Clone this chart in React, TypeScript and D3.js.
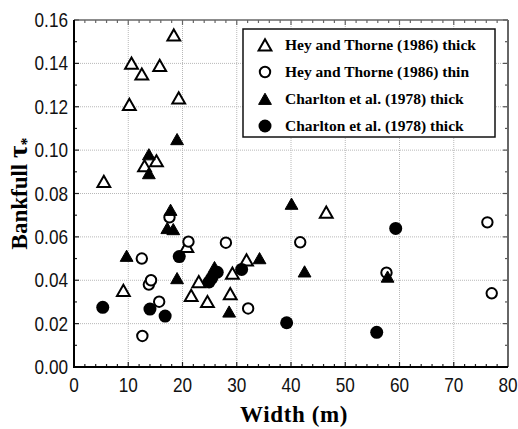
import React, { useEffect, useRef } from 'react';
import * as d3 from 'd3';

// Hey and Thorne (1986) thick — open triangles
const heyThickX = [5.5, 9.1, 10.2, 10.6, 12.5, 13.0, 15.2, 15.8, 18.4, 19.3, 20.8, 21.6, 23.0, 24.6, 28.8, 29.2, 31.8, 46.5];
const heyThickY = [0.0855, 0.0352, 0.121, 0.140, 0.135, 0.0927, 0.095, 0.139, 0.153, 0.124, 0.0555, 0.0329, 0.0393, 0.0301, 0.0337, 0.0432, 0.0493, 0.0713];

// Hey and Thorne (1986) thin — open circles
const heyThinX = [12.5, 12.6, 13.8, 14.2, 15.7, 17.6, 21.1, 28.0, 32.1, 41.7, 57.6, 76.2, 77.0];
const heyThinY = [0.050, 0.0143, 0.038, 0.040, 0.0301, 0.069, 0.0578, 0.0573, 0.027, 0.0575, 0.0435, 0.0667, 0.034];

// Charlton et al. (1978) thick — filled triangles
const charlTriX = [9.7, 13.8, 13.8, 17.2, 18.3, 17.8, 19.0, 19.0, 25.9, 28.6, 34.2, 40.1, 42.5, 57.8];
const charlTriY = [0.0512, 0.098, 0.0893, 0.064, 0.0635, 0.0724, 0.105, 0.0409, 0.046, 0.0255, 0.0501, 0.0752, 0.044, 0.0416];

// Charlton et al. (1978) thick — filled circles
const charlDotX = [5.3, 14.0, 16.8, 19.4, 24.9, 25.4, 26.4, 30.9, 39.2, 55.8, 59.3];
const charlDotY = [0.0275, 0.0267, 0.0235, 0.0509, 0.0392, 0.041, 0.0437, 0.045, 0.0204, 0.016, 0.0639];

const legendLabels = [
  'Hey and Thorne (1986) thick',
  'Hey and Thorne (1986) thin',
  'Charlton et al. (1978) thick',
  'Charlton et al. (1978) thick',
];

const xTicks = [0, 10, 20, 30, 40, 50, 60, 70, 80];
const yTicks = [0, 0.02, 0.04, 0.06, 0.08, 0.1, 0.12, 0.14, 0.16];

const W = 518;
const H = 429;

const trianglePath = (cx: number, cy: number) =>
  `M${cx},${cy - 5.8}L${cx + 6.4},${cy + 5.4}L${cx - 6.4},${cy + 5.4}Z`;

const App = () => {
  const ref = useRef<SVGSVGElement>(null);

  useEffect(() => {
    if (!ref.current) return;
    const svg = d3.select(ref.current);
    svg.selectAll('*').remove();

    const margin = { top: 20, right: 10, bottom: 62, left: 74 };
    const x = d3.scaleLinear().domain([0, 80]).range([margin.left, W - margin.right]);
    const y = d3.scaleLinear().domain([0, 0.16]).range([H - margin.bottom, margin.top]);
    const [x0, x1] = x.range();
    const [y0, y1] = y.range();

    svg.append('rect').attr('width', W).attr('height', H).attr('fill', '#fff');

    // grid
    const grid = svg.append('g').attr('stroke', '#b8b8b8').attr('stroke-width', 1).attr('stroke-dasharray', '1,1');
    xTicks.slice(1, -1).forEach(t => {
      grid.append('line').attr('x1', x(t)).attr('x2', x(t)).attr('y1', y0).attr('y2', y1);
    });
    yTicks.slice(1, -1).forEach(t => {
      grid.append('line').attr('x1', x0).attr('x2', x1).attr('y1', y(t)).attr('y2', y(t));
    });

    // ticks on all sides (inward)
    const ticks = svg.append('g').attr('stroke', '#222').attr('stroke-width', 1.2);
    d3.range(0, 81, 2).forEach(t => {
      const len = t % 10 === 0 ? 5 : 3;
      ticks.append('line').attr('x1', x(t)).attr('x2', x(t)).attr('y1', y0).attr('y2', y0 - len);
      ticks.append('line').attr('x1', x(t)).attr('x2', x(t)).attr('y1', y1).attr('y2', y1 + len).attr('stroke', '#666');
    });
    d3.range(0, 17).forEach(i => {
      const t = i * 0.01;
      const len = i % 2 === 0 ? 5 : 3;
      ticks.append('line').attr('x1', x0).attr('x2', x0 + len).attr('y1', y(t)).attr('y2', y(t));
      ticks.append('line').attr('x1', x1).attr('x2', x1 - len).attr('y1', y(t)).attr('y2', y(t)).attr('stroke', '#555');
    });

    // frame
    svg.append('line').attr('x1', x0).attr('x2', x1).attr('y1', y1).attr('y2', y1).attr('stroke', '#666').attr('stroke-width', 1.5);
    svg.append('line').attr('x1', x1).attr('x2', x1).attr('y1', y1).attr('y2', y0).attr('stroke', '#666').attr('stroke-width', 2);
    svg.append('line').attr('x1', x0).attr('x2', x0).attr('y1', y1).attr('y2', y0 + 1).attr('stroke', '#000').attr('stroke-width', 2);
    svg.append('line').attr('x1', x0 - 1).attr('x2', x1).attr('y1', y0).attr('y2', y0).attr('stroke', '#000').attr('stroke-width', 2);

    // tick labels
    const labelFont = '"Liberation Sans", Arial, sans-serif';
    yTicks.forEach(t => {
      svg.append('g')
        .attr('transform', `translate(68,${y(t) + 7}) scale(0.86,1)`)
        .append('text')
        .attr('text-anchor', 'end')
        .attr('font-family', labelFont)
        .attr('font-size', 20)
        .attr('fill', '#111')
        .text(d3.format('.2f')(t));
    });
    xTicks.forEach(t => {
      svg.append('g')
        .attr('transform', `translate(${x(t)},392) scale(0.86,1)`)
        .append('text')
        .attr('text-anchor', 'middle')
        .attr('font-family', labelFont)
        .attr('font-size', 20)
        .attr('fill', '#111')
        .text(String(t));
    });

    // axis titles
    const titleFont = '"Liberation Serif", "DejaVu Serif", serif';
    svg.append('text')
      .attr('x', (x0 + x1) / 2 + 3)
      .attr('y', 422)
      .attr('text-anchor', 'middle')
      .attr('font-family', titleFont)
      .attr('font-weight', 'bold')
      .attr('font-size', 23)
      .attr('letter-spacing', 0.6)
      .text('Width (m)');

    const yt = svg.append('text')
      .attr('transform', `translate(27,${(y0 + y1) / 2}) rotate(-90)`)
      .attr('text-anchor', 'middle')
      .attr('font-family', titleFont)
      .attr('font-weight', 'bold')
      .attr('font-size', 23);
    yt.append('tspan').text('Bankfull ');
    yt.append('tspan').attr('font-size', 27).text('τ');
    yt.append('tspan').attr('font-size', 16).attr('dy', 5).text('*');

    // data marks
    const marks = svg.append('g');
    heyThickX.forEach((v, i) => {
      marks.append('path').attr('d', trianglePath(x(v), y(heyThickY[i])))
        .attr('fill', '#fff').attr('stroke', '#000').attr('stroke-width', 2).attr('stroke-linejoin', 'miter');
    });
    heyThinX.forEach((v, i) => {
      marks.append('circle').attr('cx', x(v)).attr('cy', y(heyThinY[i])).attr('r', 5.2)
        .attr('fill', '#fff').attr('stroke', '#000').attr('stroke-width', 2);
    });
    charlTriX.forEach((v, i) => {
      marks.append('path').attr('d', trianglePath(x(v), y(charlTriY[i])))
        .attr('fill', '#000').attr('stroke', '#000').attr('stroke-width', 1);
    });
    charlDotX.forEach((v, i) => {
      marks.append('circle').attr('cx', x(v)).attr('cy', y(charlDotY[i])).attr('r', 6.5).attr('fill', '#000');
    });

    // legend
    const lg = svg.append('g');
    lg.append('rect').attr('x', 243).attr('y', 29).attr('width', 252).attr('height', 108)
      .attr('fill', '#fff').attr('stroke', '#111').attr('stroke-width', 1.5);
    const rows = [45, 72, 99, 126];
    lg.append('path').attr('d', trianglePath(265, rows[0])).attr('fill', '#fff').attr('stroke', '#000').attr('stroke-width', 2);
    lg.append('circle').attr('cx', 265).attr('cy', rows[1]).attr('r', 5.2).attr('fill', '#fff').attr('stroke', '#000').attr('stroke-width', 2);
    lg.append('path').attr('d', trianglePath(265, rows[2])).attr('fill', '#000').attr('stroke', '#000').attr('stroke-width', 1);
    lg.append('circle').attr('cx', 265).attr('cy', rows[3]).attr('r', 6.5).attr('fill', '#000');
    legendLabels.forEach((l, i) => {
      lg.append('text')
        .attr('x', 285)
        .attr('y', rows[i] + 5)
        .attr('font-family', titleFont)
        .attr('font-weight', 'bold')
        .attr('font-size', 15.5)
        .text(l);
    });

    return () => {
      svg.selectAll('*').remove();
    };
  }, []);

  return <svg ref={ref} width={W} height={H} style={{ position: 'absolute', left: 0, top: 0 }} />;
};

export default App;
